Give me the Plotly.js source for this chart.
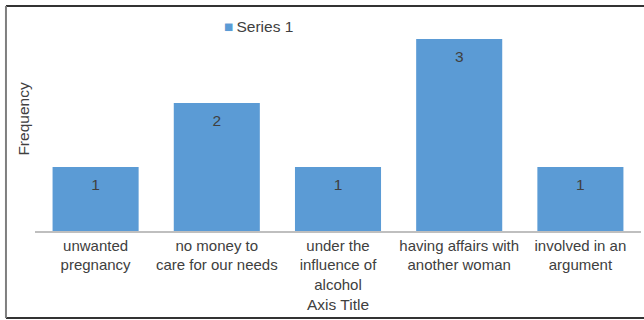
<!DOCTYPE html>
<html><head><meta charset="utf-8">
<script src="https://cdn.plot.ly/plotly-3.0.1.min.js"></script>
<style>html,body{margin:0;padding:0;background:#fff;}#c{width:644px;height:320px;}</style>
</head><body><div id="c"></div>
<script>
const categories = ["unwanted<br>pregnancy", "no money to<br>care for our needs", "under the<br>influence of<br>alcohol", "having affairs with<br>another woman", "involved in an<br>argument"];
const values = [1, 2, 1, 3, 1];
const seriesName = "Series 1";
const xTitle = "Axis Title";
const yTitle = "Frequency";
const barColor = '#5b9bd5';
const FONT = 'Liberation Sans, Arial, sans-serif';
const FS = 15.5;
const TICKFS = 15;
const TXT = '#404040';

const bars = {
  type: 'bar', x: categories, y: values, name: seriesName,
  marker: {color: barColor}, showlegend: false, hoverinfo: 'none'
};
const labels = {
  type: 'scatter', mode: 'markers+text', x: categories, y: values,
  marker: {size: 16, opacity: 0},
  text: values.map(String), textposition: 'bottom center',
  textfont: {family: FONT, size: FS, color: TXT},
  showlegend: false, hoverinfo: 'none'
};
const layout = {
  width: 644, height: 320,
  margin: {l: 35, r: 3, t: 7, b: 89},
  paper_bgcolor: '#fff', plot_bgcolor: '#fff',
  bargap: 0.29,
  font: {family: FONT, size: FS, color: TXT},
  xaxis: {showline: true, linecolor: '#bfbfbf', linewidth: 1.5, ticks: '', tickangle: 0,
          tickfont: {size: TICKFS, color: TXT},
          title: {text: xTitle, font: {size: FS, color: TXT}, standoff: 7}},
  yaxis: {range: [0, 3.5], showgrid: false, showticklabels: false, zeroline: false, showline: false,
          title: {text: yTitle, font: {size: FS, color: TXT}, standoff: 0}},
  showlegend: false,
  annotations: [{xref: 'paper', yref: 'paper', x: (222 - 35) / 606, y: (231 - 26) / 224,
                 xanchor: 'left', yanchor: 'middle', showarrow: false,
                 text: '<span style="color:' + barColor + '">■</span>&#8201;' + seriesName,
                 font: {family: FONT, size: FS, color: TXT}}],
  shapes: [
    {type: 'line', xref: 'paper', yref: 'paper', x0: -0.0479, x1: 1.01, y0: 1.0045, y1: 1.0045, line: {color: '#333333', width: 2}},
    {type: 'line', xref: 'paper', yref: 'paper', x0: -0.0479, x1: 1.01, y0: -0.388, y1: -0.388, line: {color: '#333333', width: 2}},
    {type: 'line', xref: 'paper', yref: 'paper', x0: -0.0479, x1: -0.0479, y0: -0.388, y1: 1.0045, line: {color: '#7f7f7f', width: 2}}
  ]
};
Plotly.newPlot('c', [bars, labels], layout, {displayModeBar: false, staticPlot: true});
</script></body></html>
